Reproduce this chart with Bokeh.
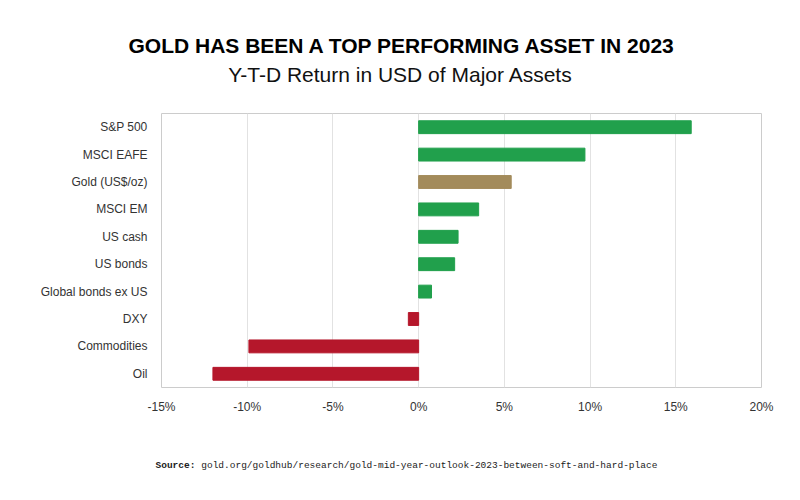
from bokeh.plotting import figure
from bokeh.layouts import column
from bokeh.models import ColumnDataSource, FixedTicker, PrintfTickFormatter, Label, FactorRange, Range1d
from bokeh.embed import file_html
from bokeh.resources import INLINE

assets = ["S&P 500", "MSCI EAFE", "Gold (US$/oz)", "MSCI EM", "US cash", "US bonds",
          "Global bonds ex US", "DXY", "Commodities", "Oil"]
returns = [15.9, 9.7, 5.4, 3.5, 2.3, 2.1, 0.75, -0.6, -9.9, -12.0]
colors = ["#21a04c", "#21a04c", "#a38b5b", "#21a04c", "#21a04c", "#21a04c",
          "#21a04c", "#b5172b", "#b5172b", "#b5172b"]
x_ticks = [-15, -10, -5, 0, 5, 10, 15, 20]

title = "GOLD HAS BEEN A TOP PERFORMING ASSET IN 2023"
subtitle = "Y-T-D Return in USD of Major Assets"
source_label = "Source:"
source_text = "gold.org/goldhub/research/gold-mid-year-outlook-2023-between-soft-and-hard-place"


def blank(height):
    f = figure(width=800, height=height, output_backend="svg", toolbar_location=None,
               x_range=Range1d(0, 800), y_range=Range1d(0, height),
               x_axis_location=None, y_axis_location=None, min_border=0)
    f.frame_align = False
    f.grid.visible = False
    f.outline_line_color = None
    return f


# --- title block ---
TH = 95
top = blank(TH)
top.add_layout(Label(x=402, y=TH - 45, text=title, text_align="center", text_baseline="middle",
                     text_font="Liberation Sans", text_font_style="bold",
                     text_font_size="21px", text_color="#000000"))
top.add_layout(Label(x=400, y=TH - 74, text=subtitle, text_align="center", text_baseline="middle",
                     text_font="Liberation Sans", text_font_size="21px", text_color="#111111"))

# --- chart ---
src = ColumnDataSource(dict(asset=assets, ret=returns, color=colors))
p = figure(width=800, height=335, output_backend="svg", toolbar_location=None,
           y_range=FactorRange(factors=list(reversed(assets))),
           x_range=Range1d(-15, 20),
           min_border_left=161, min_border_right=39, min_border_top=18, min_border_bottom=43)
p.frame_align = False

p.hbar(y="asset", left=0, right="ret", height=0.47, color="color", source=src)

p.outline_line_color = "#cccccc"
p.outline_line_width = 1
p.background_fill_color = "white"
p.border_fill_color = "white"

p.xgrid.ticker = FixedTicker(ticks=x_ticks)
p.xgrid.grid_line_color = "#e2e2e2"
p.ygrid.grid_line_color = None

p.xaxis.ticker = FixedTicker(ticks=x_ticks)
p.xaxis.formatter = PrintfTickFormatter(format="%d%%")
for ax in (p.xaxis, p.yaxis):
    ax.axis_line_color = None
    ax.major_tick_line_color = None
    ax.minor_tick_line_color = None
    ax.major_label_text_font = "Liberation Sans"
    ax.major_label_text_font_size = "12px"
    ax.major_label_text_color = "#333333"
p.xaxis.major_label_standoff = 6
p.yaxis.major_label_standoff = 8

# --- source block ---
BH = 70
bot = blank(BH)
bot.add_layout(Label(x=155, y=BH - 35, text=source_label, text_align="left", text_baseline="middle",
                     text_font="Liberation Mono", text_font_style="bold",
                     text_font_size="9.5px", text_color="#222222"))
bot.add_layout(Label(x=155 + 8 * 5.72, y=BH - 35, text=source_text, text_align="left",
                     text_baseline="middle", text_font="Liberation Mono",
                     text_font_size="9.5px", text_color="#222222"))

layout = column(top, p, bot, spacing=0)
open("out.html", "w").write(file_html(layout, INLINE))
